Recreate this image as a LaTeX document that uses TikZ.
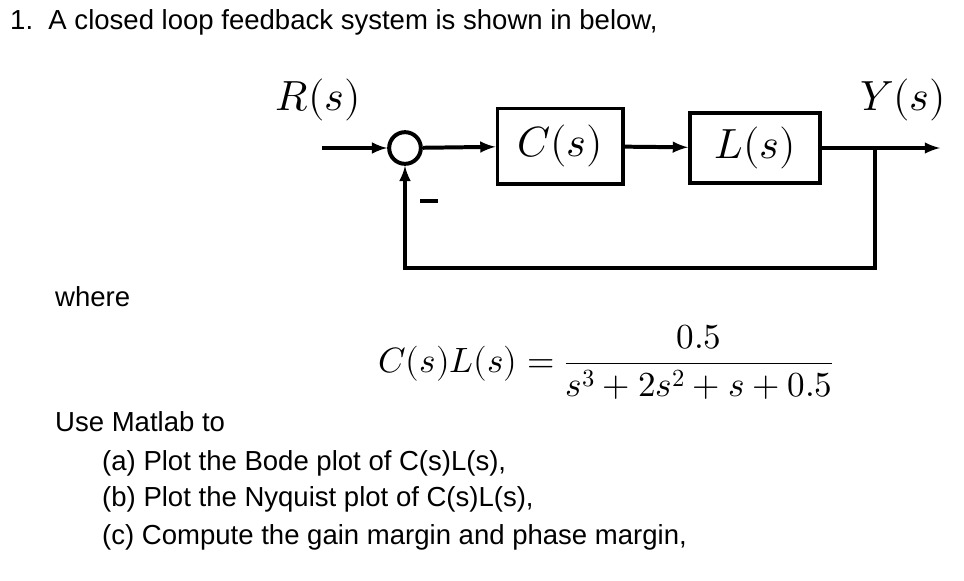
\documentclass[tikz,border=0pt]{standalone}
\usepackage{amsmath}
\usepackage{fontspec}
\usepackage{unicode-math}
\setmainfont{Liberation Sans}
\setmathfont{Latin Modern Math}
\usetikzlibrary{positioning}
\tikzset{
  blk/.style={draw,line width=3.4pt,minimum width=3.75cm,minimum height=2.25cm,font=\fontsize{36}{36}\selectfont},
  sig/.style={line width=3.4pt,-latex},
  txt/.style={anchor=base west,inner sep=0pt,font=\fontsize{23.5}{26}\selectfont},
}
\begin{document}
\begin{tikzpicture}[x=0.03cm,y=-0.03cm]
    \useasboundingbox (0,0) rectangle (964,580);
    \node[txt] (title) at (10,29) {1.\ \ A closed loop feedback system is shown in below,};
    % block diagram
    \coordinate (in) at (322,148);
    \node[draw,circle,line width=3.4pt,minimum size=0.95cm,inner sep=0pt] (sum) at (405,148) {};
    \node[blk] (C) at (560,146) {$C(s)$};
    \node[blk,minimum width=3.9cm,minimum height=2.1cm] (L) at (755,148) {$L(s)$};
    \coordinate (out) at (940,148);
    \coordinate (tap) at (875,148);
    \node[font=\fontsize{36}{36}\selectfont] (R) at (318,100) {$R(s)$};
    \node[font=\fontsize{36}{36}\selectfont] (Y) at (903,100) {$Y(s)$};
    \draw[sig] (in) -- (sum);
    \draw[sig] (sum) -- (C);
    \draw[sig] (C) -- (L);
    \draw[sig] (L) -- (out);
    \draw[sig] (tap) -- (875,268) -- (405,268) -- (sum);
    \draw[line width=3.4pt] (420,201) -- (438,201);
    % text
    \node[txt] (where) at (55,306) {where};
    \node[anchor=center,font=\fontsize{30}{34}\selectfont] (eq) at (606,362)
      {$C(s)L(s)=\dfrac{0.5}{s^3+2s^2+s+0.5}$};
    \node[txt] (use) at (55,431) {Use Matlab to};
    \node[txt] (qa) at (102,470) {(a)\ Plot the Bode plot of C(s)L(s),};
    \node[txt] (qb) at (102,506) {(b)\ Plot the Nyquist plot of C(s)L(s),};
    \node[txt] (qc) at (102,544) {(c)\ Compute the gain margin and phase margin,};
\end{tikzpicture}
\end{document}
